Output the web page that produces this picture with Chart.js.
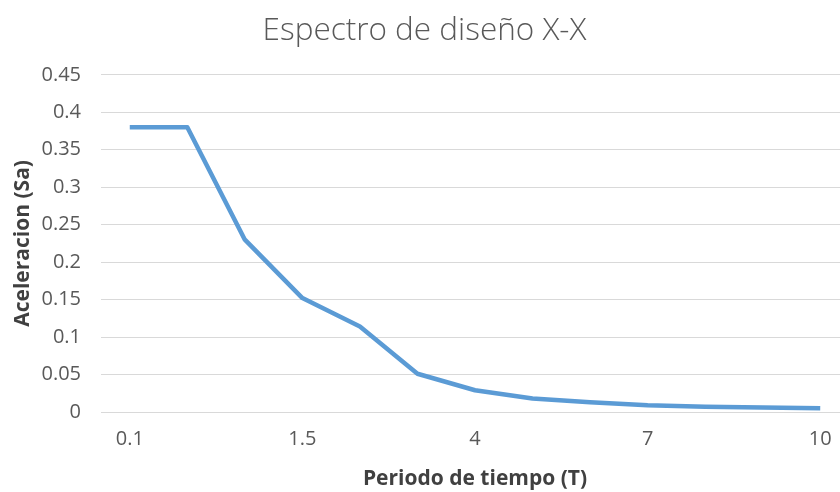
<!DOCTYPE html>
<html lang="es">
<head>
<meta charset="utf-8">
<title>Espectro de diseño X-X</title>
<script src="https://cdn.jsdelivr.net/npm/chart.js@4/dist/chart.umd.min.js"></script>
<style>
  html, body { margin: 0; padding: 0; background: #ffffff; overflow: hidden; }
  #wrap { width: 849px; height: 492px; position: relative; }
</style>
</head>
<body>
<div id="wrap"><canvas id="chart"></canvas></div>
<script>
// Periodos T (s) usados como categorías del eje horizontal
const periodos = [0.1, 0.5, 1, 1.5, 2, 3, 4, 5, 6, 7, 8, 9, 10];
// Aceleración espectral Sa para cada periodo
const aceleracion = [0.38, 0.38, 0.23, 0.152, 0.114, 0.051, 0.029, 0.018, 0.013, 0.009, 0.007, 0.006, 0.005];
// Etiquetas visibles del eje X
const etiquetasX = ['0.1', '1.5', '4', '7', '10'];
// Rango y paso del eje Y
const yMin = 0, yMax = 0.45, yPaso = 0.05;

const fuente = '"Open Sans", "Liberation Sans", sans-serif';

new Chart(document.getElementById('chart'), {
  type: 'line',
  data: {
    labels: periodos.map(String),
    datasets: [{
      label: 'Sa',
      data: aceleracion,
      borderColor: '#5B9BD5',
      borderWidth: 4.5,
      borderJoinStyle: 'round',
      pointRadius: 0,
      pointHoverRadius: 0,
      tension: 0,
      fill: false
    }]
  },
  options: {
    responsive: true,
    maintainAspectRatio: false,
    animation: false,
    layout: { padding: 0 },
    plugins: {
      legend: { display: false },
      tooltip: { enabled: false },
      title: {
        display: true,
        text: 'Espectro de diseño X-X',
        color: '#595959',
        font: { family: fuente, size: 31.5, weight: '300' },
        padding: { top: 12, bottom: 25 }
      }
    },
    scales: {
      x: {
        type: 'category',
        offset: true,
        afterFit: s => { s.height = 80; },
        grid: { display: false, drawTicks: false },
        border: { display: false },
        ticks: {
          autoSkip: false,
          maxRotation: 0,
          padding: 15,
          color: '#595959',
          font: { family: fuente, size: 20 },
          callback: function (v) {
            const lbl = this.getLabelForValue(v);
            return etiquetasX.includes(lbl) ? lbl : '';
          }
        },
        title: {
          display: true,
          text: 'Periodo de tiempo (T)',
          color: '#404040',
          font: { family: fuente, size: 21, weight: 'bold' },
          padding: { top: 0, bottom: 0 }
        }
      },
      y: {
        min: yMin,
        max: yMax,
        afterFit: s => { s.width = 101; },
        grid: { color: '#D9D9D9', lineWidth: 1, drawTicks: false },
        border: { display: false },
        ticks: {
          stepSize: yPaso,
          padding: 20,
          color: '#595959',
          font: { family: fuente, size: 20 },
          callback: v => String(Number(v.toFixed(2)))
        },
        title: {
          display: true,
          text: 'Aceleracion (Sa)',
          color: '#404040',
          font: { family: fuente, size: 21, weight: 'bold' },
          padding: { top: 10, bottom: 0 }
        }
      }
    }
  }
});
</script>
</body>
</html>
